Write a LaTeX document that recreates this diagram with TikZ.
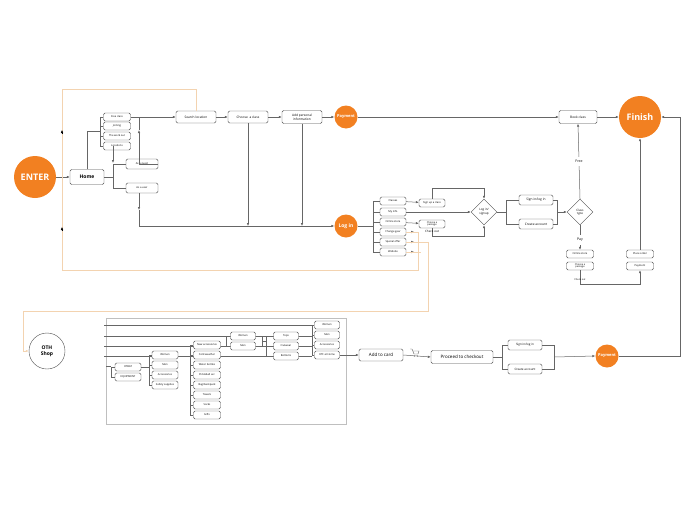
\documentclass[tikz,border=0pt]{standalone}
\usepackage{fontspec}
\setmainfont{Open Sans}
\usetikzlibrary{arrows.meta,shapes.geometric}
\definecolor{otforange}{HTML}{F28021}
\definecolor{loopline}{HTML}{F3D3B0}
\tikzset{
  box/.style={draw=black!70,rounded corners=1.5pt,minimum height=8pt,inner sep=0.5pt,font=\fontsize{2.6}{3}\selectfont,fill=white},
  dot/.style={circle,fill=otforange,text=white,font=\bfseries\fontsize{4}{4.5}\selectfont,inner sep=0pt},
  dia/.style={diamond,draw=black!70,minimum size=26pt,inner sep=0pt,align=center,font=\fontsize{3}{3.5}\selectfont,fill=white},
  ln/.style={draw=black!60,line width=0.5pt},
  arr/.style={ln,-{Latex[length=3pt,width=2.5pt]}},
  loop/.style={draw=loopline,line width=0.8pt},
  lbl/.style={font=\fontsize{3}{3.5}\selectfont}
}
\begin{document}
\begin{tikzpicture}[x=1pt,y=-1pt]
  \useasboundingbox (0,0) rectangle (695,514);
  % main flow
  \node (enter) at (35,177) [dot,minimum size=42pt,font=\bfseries\fontsize{9}{10}\selectfont]{ENTER};
  \node (home) at (87,177) [box,minimum width=34pt,minimum height=15pt,font=\fontsize{5}{6}\selectfont\bfseries]{Home};
  \node (free) at (117,117) [box,minimum width=27pt]{Free class};
  \node (join) at (117,126) [box,minimum width=27pt]{Joining};
  \node (work) at (117,136) [box,minimum width=27pt]{The work out};
  \node (locs) at (117,146) [box,minimum width=27pt]{Locations};
  \node (guest) at (142,164) [box,minimum width=32pt,minimum height=10pt]{As a guest};
  \node (user) at (142,188) [box,minimum width=32pt,minimum height=10pt]{As a user};
  \node (search) at (196,117) [box,minimum width=40pt,minimum height=12pt,font=\fontsize{3.2}{3.6}\selectfont]{Search location};
  \node (choose) at (248,117) [box,minimum width=40pt,minimum height=12pt,font=\fontsize{3.2}{3.6}\selectfont]{Choose\ \ a class};
  \node (info) at (302,117) [box,minimum width=40pt,minimum height=13pt,align=center,font=\fontsize{3.2}{3.6}\selectfont]{Add personal\\information};
  \node (pay1) at (346,117) [dot,minimum size=23pt]{Payment};
  \node (login) at (346,226) [dot,minimum size=23pt,font=\bfseries\fontsize{5}{6}\selectfont]{Log in};
  \node (book) at (578,117) [box,minimum width=38pt,minimum height=13pt,font=\fontsize{3.2}{3.6}\selectfont]{Book class};
  \node (finish) at (640,117) [dot,minimum size=42pt,font=\bfseries\fontsize{9}{10}\selectfont]{Finish};

  \draw[arr] (enter) -- (home);
  \draw[ln] (home.north) |- (100,131);
  \draw[ln] (free.west) -| (100,146) -- (locs.west);
  \draw[ln] (join.west) -- ++(-3,0) (work.west) -- ++(-3,0);
  \draw[ln] (home.east) -- (113,177);
  \draw[ln] (guest.west) -| (113,188) -- (user.west);
  \draw[arr] (113,146) -- (113,163);
  \draw[arr] (free.east) -- (search.west);
  \draw[arr] (guest.east) -| (139,130);
  \draw[ln] (139,130) -- (139,117);
  \draw[arr] (139,193) -- (139,210);
  \draw[arr] (139,210) |- (login.west);
  \draw[arr] (search) -- (choose);
  \draw[arr] (choose) -- (info);
  \draw[arr] (info) -- (pay1);
  \draw[arr] (choose.south) -- (248,226);
  \draw[arr] (info.south) -- (302,226);
  \draw[arr] (pay1) -- (book);
  \draw[arr] (book) -- (finish);

  % log in menu
  \foreach \n/\t/\y in {cls/Classes/201,myi/My info/212,ost/Online store/222,chg/Change gear/232,spo/Special offer/242,web/Website/252}
    {\node (\n) at (393,\y) [box,minimum width=26pt]{\t};
     \draw[ln] (373,\y) -- (\n.west);}
  \draw[ln] (login.east) -- (373,226) (373,201) -- (373,252);
  \node (sign) at (432,203) [box,minimum width=26pt]{Sign up a class};
  \node (pkg) at (432,224) [box,minimum width=26pt,align=center,font=\fontsize{2.4}{2.6}\selectfont]{Choose a\\package};
  \node (lsu) at (484,212) [dia]{Log in/\\signup};
  \draw[arr] (cls) -- (sign);
  \draw[arr] (ost) -- (pkg);
  \draw[arr] (sign.north) |- (484,188) -- (lsu.north);
  \draw[arr] (myi) -- (lsu);
  \draw[arr] (pkg.south) |- node[lbl,above]{Check out} (484,236) -- (lsu.south);
  \foreach \n in {chg,spo,web} \draw[arr] (\n.east) ++(4,0) -- ++(4,0);
  \draw[loop] (chg.east) -- (418,232) -- (418,270) -| (62,89) -| (search.north);
  \draw[-{Latex[length=3pt,width=2.5pt]},draw=black] (62,134) -- (62,130);
  \draw[-{Latex[length=3pt,width=2.5pt]},draw=black] (62,231) -- (62,227);
  \draw[loop] (spo.east) -- (428,242) -- (428,311) -| (23,351);
  \draw[loop] (web.east) -- (421,252);
  \node (sil) at (536,200) [box,minimum width=34pt,minimum height=10pt,font=\fontsize{3.2}{3.6}\selectfont]{Sign in/log in};
  \node (cra) at (536,224) [box,minimum width=34pt,minimum height=10pt,font=\fontsize{3.2}{3.6}\selectfont]{Create account};
  \node (ctype) at (580,212) [dia]{Class\\type};
  \draw[ln] (lsu.east) -- (506,212) (sil.west) -| (506,224) -- (cra.west);
  \draw[ln] (sil.east) -| (557,224) -- (cra.east);
  \draw[arr] (557,212) -- (ctype.west);
  \draw[arr] (ctype.north) -- node[lbl,fill=white,font=\fontsize{3.5}{4}\selectfont]{Free} (book.south);
  \node (pay) at (580,240) [lbl,font=\fontsize{3.5}{4}\selectfont]{Pay};
  \draw[ln] (ctype.south) -- (pay);
  \node (ost2) at (580,254) [box,minimum width=27pt]{Online store};
  \node (pkg2) at (580,266) [box,minimum width=27pt,align=center,font=\fontsize{2.4}{2.6}\selectfont]{Choose a\\package};
  \node (ord) at (640,254) [box,minimum width=27pt]{Place order};
  \node (pay2) at (640,266) [box,minimum width=27pt]{Payment};
  \draw[arr] (pay) -- (ost2);
  \draw[arr] (pkg2.south) |- node[lbl,above,font=\fontsize{2.4}{2.6}\selectfont]{Check out} (640,284) -- (pay2.south);
  \draw[arr] (ord.north) -- (finish.south);

  % shop
  \node (shop) at (47,351) [circle,draw=black!70,minimum size=36pt,align=center,inner sep=0pt,font=\bfseries\fontsize{5}{6}\selectfont]{OTH\\Shop};
  \draw[-{Latex[length=3pt,width=2.5pt]},draw=loopline,line width=0.8pt] (23,351) -- (shop.west);
  \draw[draw=black!25,line width=0.4pt] (106,318) rectangle (346,424);
  \foreach \y in {325,336,346,356} \draw[ln] (104,\y) -- (312,\y);
  \foreach \n/\t/\y in {aw/Women/325,am/Men/335,aa/Accessories/345,ah/OTF at Home/355}
    {\node (\n) at (327,\y) [box,minimum width=25pt]{\t}; \draw[ln] (312,\y) -- (\n.west);}
  \draw[ln] (312,325) -- (312,355);
  \foreach \n/\t/\y in {cw/Women/336,cm/Men/346}
    {\node (\n) at (243,\y) [box,minimum width=25pt]{\t}; \draw[ln] (226,\y) -- (\n.west);}
  \foreach \n/\t/\y in {tp/Tops/336,ow/Outwear/346,bt/Bottoms/356}
    {\node (\n) at (286,\y) [box,minimum width=25pt]{\t}; \draw[ln] (266,\y) -- (\n.west);}
  \draw[ln] (cw.east) -- (262,336) (cm.east) -- (262,346) (262,336) -- (262,346) (262,341) -- (266,341) (266,336) -- (266,356);
  \draw[ln] (226,336) -- (226,346);
  \foreach \n/\t/\y in {na/New accessories/345,cw2/Cold weather/355,wb/Water bottles/365,pb/Pickleball acc/375,bg/{Bag/backpack}/385,tw/Towels/395,sk/Socks/405,gf/Gifts/415}
    {\node (\n) at (207,\y) [box,minimum width=27pt]{\t}; \draw[ln] (190,\y) -- (\n.west);}
  \draw[ln] (190,345) -- (190,415);
  \foreach \n/\t/\y in {sw/Women/355,sm/Men/365,sa/Accessories/375,ss/Safety supplies/385}
    {\node (\n) at (165,\y) [box,minimum width=26pt]{\t}; \draw[ln] (149,\y) -- (\n.west);}
  \draw[ln] (149,355) -- (149,385);
  \node (otb) at (128,367) [box,minimum width=26pt]{OTBAT};
  \node (eqp) at (128,377) [box,minimum width=26pt]{EQUIPMENT};
  \draw[ln] (106,366) -- (111,366) (otb.west) -| (111,377) -- (eqp.west) (otb.east) -- (149,367);

  \node (card) at (381,355) [box,minimum width=44pt,minimum height=12pt,font=\fontsize{4.5}{5}\selectfont]{Add to card};
  \node (chk) at (462,357) [box,minimum width=62pt,minimum height=13pt,font=\fontsize{4.5}{5}\selectfont]{Proceed to checkout};
  % cart icon
  \draw[black!60,line width=0.4pt] (410,349) -- (412,349) -- (414,354) -- (418,354) -- (419,351) -- (413,351);
  \fill[black!60] (414.5,356) circle (0.6pt) (417.5,356) circle (0.6pt);
  \node (sil2) at (525,345) [box,minimum width=34pt,minimum height=10pt,font=\fontsize{3}{3.5}\selectfont]{Sign in/log in};
  \node (cra2) at (525,369) [box,minimum width=34pt,minimum height=10pt,font=\fontsize{3}{3.5}\selectfont]{Create account};
  \node (pay3) at (607,356) [dot,minimum size=23pt]{Payment};
  \draw[arr] (ah.east) -- (card.west);
  \draw[arr] (card.east) -- (chk.west);
  \draw[ln] (chk.east) -- (502,357) (sil2.west) -| (502,369) -- (cra2.west);
  \draw[ln] (sil2.east) -| (554,369) -- (cra2.east);
  \draw[arr] (554,357) -- (pay3.west);
  \draw[arr] (pay3.east) -| (680,117) -- (finish.east);
\end{tikzpicture}
\end{document}
